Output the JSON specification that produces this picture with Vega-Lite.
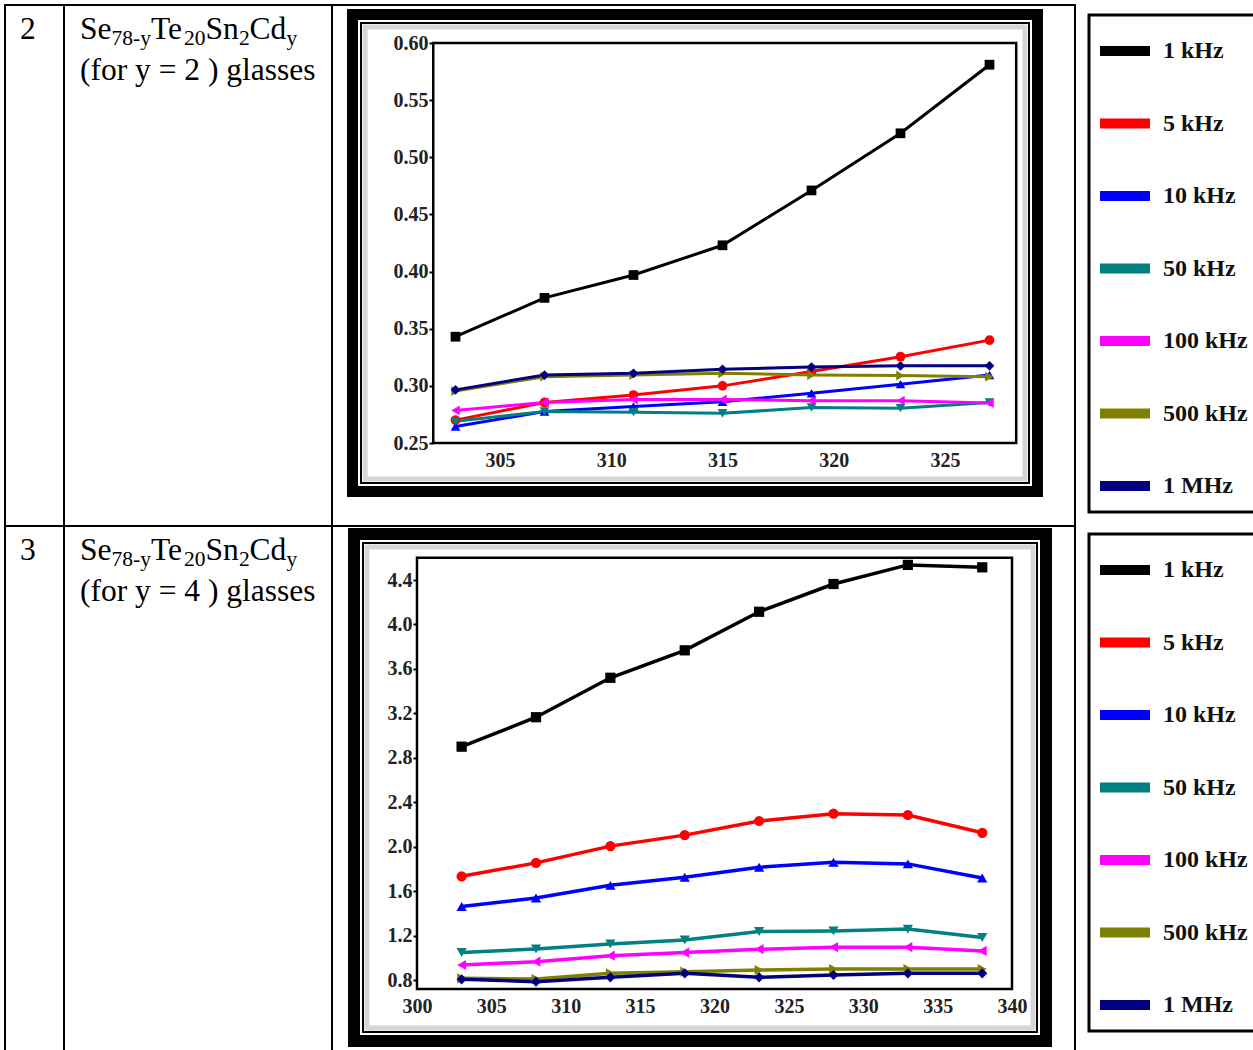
{
  "$schema": "https://vega.github.io/schema/vega-lite/v6.json",
  "background": "white",
  "padding": {"left": 4, "top": 4, "right": 0, "bottom": 0},
  "autosize": {"type": "pad"},
  "datasets": {
    "table": [
      {"no": "2", "s1": "Se", "s2": "78-y", "s3": "Te", "s4": "20", "s5": "Sn", "s6": "2", "s7": "Cd", "s8": "y", "line2": "(for y = 2 ) glasses"},
      {"no": "3", "s1": "Se", "s2": "78-y", "s3": "Te", "s4": "20", "s5": "Sn", "s6": "2", "s7": "Cd", "s8": "y", "line2": "(for y = 4 ) glasses"}
    ],
    "c1": [
      {"f": "1 kHz", "T": 303, "v": 0.343}, {"f": "1 kHz", "T": 307, "v": 0.377}, {"f": "1 kHz", "T": 311, "v": 0.397}, {"f": "1 kHz", "T": 315, "v": 0.423}, {"f": "1 kHz", "T": 319, "v": 0.471}, {"f": "1 kHz", "T": 323, "v": 0.521}, {"f": "1 kHz", "T": 327, "v": 0.581},
      {"f": "5 kHz", "T": 303, "v": 0.270}, {"f": "5 kHz", "T": 307, "v": 0.2855}, {"f": "5 kHz", "T": 311, "v": 0.292}, {"f": "5 kHz", "T": 315, "v": 0.300}, {"f": "5 kHz", "T": 319, "v": 0.3125}, {"f": "5 kHz", "T": 323, "v": 0.3255}, {"f": "5 kHz", "T": 327, "v": 0.340},
      {"f": "10 kHz", "T": 303, "v": 0.2645}, {"f": "10 kHz", "T": 307, "v": 0.2775}, {"f": "10 kHz", "T": 311, "v": 0.282}, {"f": "10 kHz", "T": 315, "v": 0.286}, {"f": "10 kHz", "T": 319, "v": 0.2935}, {"f": "10 kHz", "T": 323, "v": 0.3015}, {"f": "10 kHz", "T": 327, "v": 0.3095},
      {"f": "50 kHz", "T": 303, "v": 0.269}, {"f": "50 kHz", "T": 307, "v": 0.2775}, {"f": "50 kHz", "T": 311, "v": 0.277}, {"f": "50 kHz", "T": 315, "v": 0.276}, {"f": "50 kHz", "T": 319, "v": 0.281}, {"f": "50 kHz", "T": 323, "v": 0.2805}, {"f": "50 kHz", "T": 327, "v": 0.2855},
      {"f": "100 kHz", "T": 303, "v": 0.2785}, {"f": "100 kHz", "T": 307, "v": 0.2855}, {"f": "100 kHz", "T": 311, "v": 0.288}, {"f": "100 kHz", "T": 315, "v": 0.288}, {"f": "100 kHz", "T": 319, "v": 0.287}, {"f": "100 kHz", "T": 323, "v": 0.287}, {"f": "100 kHz", "T": 327, "v": 0.285},
      {"f": "500 kHz", "T": 303, "v": 0.2955}, {"f": "500 kHz", "T": 307, "v": 0.308}, {"f": "500 kHz", "T": 311, "v": 0.3095}, {"f": "500 kHz", "T": 315, "v": 0.311}, {"f": "500 kHz", "T": 319, "v": 0.3095}, {"f": "500 kHz", "T": 323, "v": 0.309}, {"f": "500 kHz", "T": 327, "v": 0.308},
      {"f": "1 MHz", "T": 303, "v": 0.2965}, {"f": "1 MHz", "T": 307, "v": 0.3095}, {"f": "1 MHz", "T": 311, "v": 0.311}, {"f": "1 MHz", "T": 315, "v": 0.3145}, {"f": "1 MHz", "T": 319, "v": 0.3165}, {"f": "1 MHz", "T": 323, "v": 0.3175}, {"f": "1 MHz", "T": 327, "v": 0.3175}
    ],
    "c2": [
      {"f": "1 kHz", "T": 303, "v": 2.90}, {"f": "1 kHz", "T": 308, "v": 3.165}, {"f": "1 kHz", "T": 313, "v": 3.52}, {"f": "1 kHz", "T": 318, "v": 3.767}, {"f": "1 kHz", "T": 323, "v": 4.114}, {"f": "1 kHz", "T": 328, "v": 4.364}, {"f": "1 kHz", "T": 333, "v": 4.536}, {"f": "1 kHz", "T": 338, "v": 4.514},
      {"f": "5 kHz", "T": 303, "v": 1.733}, {"f": "5 kHz", "T": 308, "v": 1.854}, {"f": "5 kHz", "T": 313, "v": 2.005}, {"f": "5 kHz", "T": 318, "v": 2.104}, {"f": "5 kHz", "T": 323, "v": 2.231}, {"f": "5 kHz", "T": 328, "v": 2.297}, {"f": "5 kHz", "T": 333, "v": 2.285}, {"f": "5 kHz", "T": 338, "v": 2.125},
      {"f": "10 kHz", "T": 303, "v": 1.462}, {"f": "10 kHz", "T": 308, "v": 1.538}, {"f": "10 kHz", "T": 313, "v": 1.652}, {"f": "10 kHz", "T": 318, "v": 1.725}, {"f": "10 kHz", "T": 323, "v": 1.815}, {"f": "10 kHz", "T": 328, "v": 1.860}, {"f": "10 kHz", "T": 333, "v": 1.845}, {"f": "10 kHz", "T": 338, "v": 1.718},
      {"f": "50 kHz", "T": 303, "v": 1.047}, {"f": "50 kHz", "T": 308, "v": 1.080}, {"f": "50 kHz", "T": 313, "v": 1.125}, {"f": "50 kHz", "T": 318, "v": 1.161}, {"f": "50 kHz", "T": 323, "v": 1.236}, {"f": "50 kHz", "T": 328, "v": 1.242}, {"f": "50 kHz", "T": 333, "v": 1.258}, {"f": "50 kHz", "T": 338, "v": 1.182},
      {"f": "100 kHz", "T": 303, "v": 0.935}, {"f": "100 kHz", "T": 308, "v": 0.965}, {"f": "100 kHz", "T": 313, "v": 1.019}, {"f": "100 kHz", "T": 318, "v": 1.047}, {"f": "100 kHz", "T": 323, "v": 1.077}, {"f": "100 kHz", "T": 328, "v": 1.095}, {"f": "100 kHz", "T": 333, "v": 1.095}, {"f": "100 kHz", "T": 338, "v": 1.062},
      {"f": "500 kHz", "T": 303, "v": 0.815}, {"f": "500 kHz", "T": 308, "v": 0.809}, {"f": "500 kHz", "T": 313, "v": 0.860}, {"f": "500 kHz", "T": 318, "v": 0.875}, {"f": "500 kHz", "T": 323, "v": 0.890}, {"f": "500 kHz", "T": 328, "v": 0.899}, {"f": "500 kHz", "T": 333, "v": 0.899}, {"f": "500 kHz", "T": 338, "v": 0.899},
      {"f": "1 MHz", "T": 303, "v": 0.806}, {"f": "1 MHz", "T": 308, "v": 0.785}, {"f": "1 MHz", "T": 313, "v": 0.824}, {"f": "1 MHz", "T": 318, "v": 0.860}, {"f": "1 MHz", "T": 323, "v": 0.824}, {"f": "1 MHz", "T": 328, "v": 0.845}, {"f": "1 MHz", "T": 333, "v": 0.860}, {"f": "1 MHz", "T": 338, "v": 0.860}
    ]
  },
  "columns": 4,
  "spacing": 0,
  "bounds": "flush",
  "resolve": {"scale": {"color": "independent"}, "legend": {"color": "independent"}},
  "concat": [
    {
      "width": 59, "height": 521,
      "data": {"name": "table"},
      "transform": [{"filter": "datum.no == '2'"}],
      "mark": {"type": "text", "align": "left", "baseline": "alphabetic", "fontSize": 31.5},
      "encoding": {"text": {"field": "no"}, "x": {"value": 15}, "y": {"value": 34}}
    },
    {
      "width": 268, "height": 521,
      "data": {"name": "table"},
      "transform": [{"filter": "datum.no == '2'"}],
      "layer": [
        {"mark": {"type": "text", "align": "left", "baseline": "alphabetic", "fontSize": 31.5}, "encoding": {"text": {"field": "s1"}, "x": {"value": 16}, "y": {"value": 34}}},
        {"mark": {"type": "text", "align": "left", "baseline": "alphabetic", "fontSize": 21.5}, "encoding": {"text": {"field": "s2"}, "x": {"value": 47.5}, "y": {"value": 40}}},
        {"mark": {"type": "text", "align": "left", "baseline": "alphabetic", "fontSize": 31.5}, "encoding": {"text": {"field": "s3"}, "x": {"value": 86.9}, "y": {"value": 34}}},
        {"mark": {"type": "text", "align": "left", "baseline": "alphabetic", "fontSize": 21.5}, "encoding": {"text": {"field": "s4"}, "x": {"value": 120.1}, "y": {"value": 40}}},
        {"mark": {"type": "text", "align": "left", "baseline": "alphabetic", "fontSize": 31.5}, "encoding": {"text": {"field": "s5"}, "x": {"value": 141.6}, "y": {"value": 34}}},
        {"mark": {"type": "text", "align": "left", "baseline": "alphabetic", "fontSize": 21.5}, "encoding": {"text": {"field": "s6"}, "x": {"value": 174.9}, "y": {"value": 40}}},
        {"mark": {"type": "text", "align": "left", "baseline": "alphabetic", "fontSize": 31.5}, "encoding": {"text": {"field": "s7"}, "x": {"value": 185.6}, "y": {"value": 34}}},
        {"mark": {"type": "text", "align": "left", "baseline": "alphabetic", "fontSize": 21.5}, "encoding": {"text": {"field": "s8"}, "x": {"value": 222.4}, "y": {"value": 40}}},
        {"mark": {"type": "text", "align": "left", "baseline": "alphabetic", "fontSize": 31.5}, "encoding": {"text": {"field": "line2"}, "x": {"value": 16}, "y": {"value": 75}}}
      ]
    },
    {
      "width": 743, "height": 521,
      "layer": [
        {"data": {"name": "c1"}, "mark": {"type": "line", "strokeWidth": 3},
         "encoding": {
           "x": {"field": "T", "type": "quantitative", "scale": {"domain": [297.449, 330.843], "nice": false, "zero": false},
                 "axis": {"title": null, "values": [305, 310, 315, 320, 325], "offset": -83, "ticks": false, "labelPadding": 7, "zindex": 1}},
           "y": {"field": "v", "type": "quantitative", "scale": {"domain": [0.17738, 0.63325], "nice": false, "zero": false},
                 "axis": {"title": null, "values": [0.25, 0.30, 0.35, 0.40, 0.45, 0.50, 0.55, 0.60], "format": ".2f", "offset": -101, "ticks": true, "tickSize": 4, "tickWidth": 2, "tickColor": "#000", "labelPadding": 1, "zindex": 1}},
           "color": {"field": "f", "type": "nominal",
                     "scale": {"domain": ["1 kHz", "5 kHz", "10 kHz", "50 kHz", "100 kHz", "500 kHz", "1 MHz"], "range": ["#000000", "#ff0000", "#0000ff", "#008080", "#ff00ff", "#808000", "#000080"]},
                     "legend": {"orient": "none", "legendX": 757, "legendY": 10, "title": "\u00a0", "titleOrient": "right", "titlePadding": 14, "titleFontSize": 10, "symbolType": "stroke", "symbolStrokeWidth": 10, "symbolSize": 2500, "labelFont": "Liberation Serif", "labelFontWeight": "bold", "labelFontSize": 24, "labelColor": "#111", "labelOffset": 8, "padding": 6, "rowPadding": 22.5, "strokeColor": "#000", "fillColor": "#ffffff", "labelLimit": 300}}
         }},
        {"data": {"name": "c1"}, "transform": [{"filter": "datum.f == '1 kHz'"}], "mark": {"type": "point", "shape": "square", "filled": true, "size": 95, "opacity": 1},
         "encoding": {"x": {"field": "T", "type": "quantitative"}, "y": {"field": "v", "type": "quantitative"}, "color": {"field": "f", "type": "nominal", "legend": null}}},
        {"data": {"name": "c1"}, "transform": [{"filter": "datum.f == '5 kHz'"}], "mark": {"type": "point", "shape": "circle", "filled": true, "size": 95, "opacity": 1},
         "encoding": {"x": {"field": "T", "type": "quantitative"}, "y": {"field": "v", "type": "quantitative"}, "color": {"field": "f", "type": "nominal", "legend": null}}},
        {"data": {"name": "c1"}, "transform": [{"filter": "datum.f == '10 kHz'"}], "mark": {"type": "point", "shape": "triangle-up", "filled": true, "size": 95, "opacity": 1},
         "encoding": {"x": {"field": "T", "type": "quantitative"}, "y": {"field": "v", "type": "quantitative"}, "color": {"field": "f", "type": "nominal", "legend": null}}},
        {"data": {"name": "c1"}, "transform": [{"filter": "datum.f == '50 kHz'"}], "mark": {"type": "point", "shape": "triangle-down", "filled": true, "size": 95, "opacity": 1},
         "encoding": {"x": {"field": "T", "type": "quantitative"}, "y": {"field": "v", "type": "quantitative"}, "color": {"field": "f", "type": "nominal", "legend": null}}},
        {"data": {"name": "c1"}, "transform": [{"filter": "datum.f == '100 kHz'"}], "mark": {"type": "point", "shape": "triangle-left", "filled": true, "size": 95, "opacity": 1},
         "encoding": {"x": {"field": "T", "type": "quantitative"}, "y": {"field": "v", "type": "quantitative"}, "color": {"field": "f", "type": "nominal", "legend": null}}},
        {"data": {"name": "c1"}, "transform": [{"filter": "datum.f == '500 kHz'"}], "mark": {"type": "point", "shape": "triangle-right", "filled": true, "size": 95, "opacity": 1},
         "encoding": {"x": {"field": "T", "type": "quantitative"}, "y": {"field": "v", "type": "quantitative"}, "color": {"field": "f", "type": "nominal", "legend": null}}},
        {"data": {"name": "c1"}, "transform": [{"filter": "datum.f == '1 MHz'"}], "mark": {"type": "point", "shape": "diamond", "filled": true, "size": 95, "opacity": 1},
         "encoding": {"x": {"field": "T", "type": "quantitative"}, "y": {"field": "v", "type": "quantitative"}, "color": {"field": "f", "type": "nominal", "legend": null}}},
        {"data": {"values": [{"k": 1}]}, "mark": {"type": "rect", "fill": null, "stroke": "#000", "strokeWidth": 11},
         "encoding": {"x": {"datum": 298.371, "type": "quantitative"}, "x2": {"datum": 329.157}, "y": {"datum": 0.62494, "type": "quantitative"}, "y2": {"datum": 0.20756}}},
        {"data": {"values": [{"k": 1}]}, "mark": {"type": "rect", "fill": null, "stroke": "#000", "strokeWidth": 2},
         "encoding": {"x": {"datum": 298.753, "type": "quantitative"}, "x2": {"datum": 328.775}, "y": {"datum": 0.6175, "type": "quantitative"}, "y2": {"datum": 0.215}}},
        {"data": {"values": [{"k": 1}]}, "mark": {"type": "rect", "fill": null, "stroke": "#d6d6d6", "strokeWidth": 5},
         "encoding": {"x": {"datum": 298.94, "type": "quantitative"}, "x2": {"datum": 328.59}, "y": {"datum": 0.6139, "type": "quantitative"}, "y2": {"datum": 0.2186}}},
        {"data": {"values": [{"k": 1}]}, "mark": {"type": "rect", "fill": null, "stroke": "#000", "strokeWidth": 2.5},
         "encoding": {"x": {"datum": 302.0, "type": "quantitative"}, "x2": {"datum": 328.2}, "y": {"datum": 0.60, "type": "quantitative"}, "y2": {"datum": 0.25}}}
      ]
    },
    {
      "width": 180, "height": 521,
      "data": {"values": [{"k": ""}]},
      "mark": {"type": "text"},
      "encoding": {"text": {"field": "k"}}
    },
    {
      "width": 59, "height": 526,
      "data": {"name": "table"},
      "transform": [{"filter": "datum.no == '3'"}],
      "mark": {"type": "text", "align": "left", "baseline": "alphabetic", "fontSize": 31.5},
      "encoding": {"text": {"field": "no"}, "x": {"value": 15}, "y": {"value": 34}}
    },
    {
      "width": 268, "height": 526,
      "data": {"name": "table"},
      "transform": [{"filter": "datum.no == '3'"}],
      "layer": [
        {"mark": {"type": "text", "align": "left", "baseline": "alphabetic", "fontSize": 31.5}, "encoding": {"text": {"field": "s1"}, "x": {"value": 16}, "y": {"value": 34}}},
        {"mark": {"type": "text", "align": "left", "baseline": "alphabetic", "fontSize": 21.5}, "encoding": {"text": {"field": "s2"}, "x": {"value": 47.5}, "y": {"value": 40}}},
        {"mark": {"type": "text", "align": "left", "baseline": "alphabetic", "fontSize": 31.5}, "encoding": {"text": {"field": "s3"}, "x": {"value": 86.9}, "y": {"value": 34}}},
        {"mark": {"type": "text", "align": "left", "baseline": "alphabetic", "fontSize": 21.5}, "encoding": {"text": {"field": "s4"}, "x": {"value": 120.1}, "y": {"value": 40}}},
        {"mark": {"type": "text", "align": "left", "baseline": "alphabetic", "fontSize": 31.5}, "encoding": {"text": {"field": "s5"}, "x": {"value": 141.6}, "y": {"value": 34}}},
        {"mark": {"type": "text", "align": "left", "baseline": "alphabetic", "fontSize": 21.5}, "encoding": {"text": {"field": "s6"}, "x": {"value": 174.9}, "y": {"value": 40}}},
        {"mark": {"type": "text", "align": "left", "baseline": "alphabetic", "fontSize": 31.5}, "encoding": {"text": {"field": "s7"}, "x": {"value": 185.6}, "y": {"value": 34}}},
        {"mark": {"type": "text", "align": "left", "baseline": "alphabetic", "fontSize": 21.5}, "encoding": {"text": {"field": "s8"}, "x": {"value": 222.4}, "y": {"value": 40}}},
        {"mark": {"type": "text", "align": "left", "baseline": "alphabetic", "fontSize": 31.5}, "encoding": {"text": {"field": "line2"}, "x": {"value": 16}, "y": {"value": 75}}}
      ]
    },
    {
      "width": 743, "height": 526,
      "layer": [
        {"data": {"name": "c2"}, "mark": {"type": "line", "strokeWidth": 3.5},
         "encoding": {
           "x": {"field": "T", "type": "quantitative", "scale": {"domain": [294.286, 344.235], "nice": false, "zero": false},
                 "axis": {"title": null, "values": [300, 305, 310, 315, 320, 325, 330, 335, 340], "offset": -63, "ticks": false, "labelPadding": 7, "zindex": 1}},
           "y": {"field": "v", "type": "quantitative", "scale": {"domain": [0.152, 4.886], "nice": false, "zero": false},
                 "axis": {"title": null, "values": [0.8, 1.2, 1.6, 2.0, 2.4, 2.8, 3.2, 3.6, 4.0, 4.4], "format": ".1f", "offset": -85, "ticks": true, "tickSize": 4, "tickWidth": 2, "tickColor": "#000", "labelPadding": 1, "zindex": 1}},
           "color": {"field": "f", "type": "nominal",
                     "scale": {"domain": ["1 kHz", "5 kHz", "10 kHz", "50 kHz", "100 kHz", "500 kHz", "1 MHz"], "range": ["#000000", "#ff0000", "#0000ff", "#008080", "#ff00ff", "#808000", "#000080"]},
                     "legend": {"orient": "none", "legendX": 757, "legendY": 8, "title": "\u00a0", "titleOrient": "right", "titlePadding": 14, "titleFontSize": 10, "symbolType": "stroke", "symbolStrokeWidth": 10, "symbolSize": 2500, "labelFont": "Liberation Serif", "labelFontWeight": "bold", "labelFontSize": 24, "labelColor": "#111", "labelOffset": 8, "padding": 6, "rowPadding": 22.5, "strokeColor": "#000", "fillColor": "#ffffff", "labelLimit": 300}}
         }},
        {"data": {"name": "c2"}, "transform": [{"filter": "datum.f == '1 kHz'"}], "mark": {"type": "point", "shape": "square", "filled": true, "size": 105, "opacity": 1},
         "encoding": {"x": {"field": "T", "type": "quantitative"}, "y": {"field": "v", "type": "quantitative"}, "color": {"field": "f", "type": "nominal", "legend": null}}},
        {"data": {"name": "c2"}, "transform": [{"filter": "datum.f == '5 kHz'"}], "mark": {"type": "point", "shape": "circle", "filled": true, "size": 105, "opacity": 1},
         "encoding": {"x": {"field": "T", "type": "quantitative"}, "y": {"field": "v", "type": "quantitative"}, "color": {"field": "f", "type": "nominal", "legend": null}}},
        {"data": {"name": "c2"}, "transform": [{"filter": "datum.f == '10 kHz'"}], "mark": {"type": "point", "shape": "triangle-up", "filled": true, "size": 105, "opacity": 1},
         "encoding": {"x": {"field": "T", "type": "quantitative"}, "y": {"field": "v", "type": "quantitative"}, "color": {"field": "f", "type": "nominal", "legend": null}}},
        {"data": {"name": "c2"}, "transform": [{"filter": "datum.f == '50 kHz'"}], "mark": {"type": "point", "shape": "triangle-down", "filled": true, "size": 105, "opacity": 1},
         "encoding": {"x": {"field": "T", "type": "quantitative"}, "y": {"field": "v", "type": "quantitative"}, "color": {"field": "f", "type": "nominal", "legend": null}}},
        {"data": {"name": "c2"}, "transform": [{"filter": "datum.f == '100 kHz'"}], "mark": {"type": "point", "shape": "triangle-left", "filled": true, "size": 105, "opacity": 1},
         "encoding": {"x": {"field": "T", "type": "quantitative"}, "y": {"field": "v", "type": "quantitative"}, "color": {"field": "f", "type": "nominal", "legend": null}}},
        {"data": {"name": "c2"}, "transform": [{"filter": "datum.f == '500 kHz'"}], "mark": {"type": "point", "shape": "triangle-right", "filled": true, "size": 105, "opacity": 1},
         "encoding": {"x": {"field": "T", "type": "quantitative"}, "y": {"field": "v", "type": "quantitative"}, "color": {"field": "f", "type": "nominal", "legend": null}}},
        {"data": {"name": "c2"}, "transform": [{"filter": "datum.f == '1 MHz'"}], "mark": {"type": "point", "shape": "diamond", "filled": true, "size": 105, "opacity": 1},
         "encoding": {"x": {"field": "T", "type": "quantitative"}, "y": {"field": "v", "type": "quantitative"}, "color": {"field": "f", "type": "nominal", "legend": null}}},
        {"data": {"values": [{"k": 1}]}, "mark": {"type": "rect", "fill": null, "stroke": "#000", "strokeWidth": 12},
         "encoding": {"x": {"datum": 295.765, "type": "quantitative"}, "x2": {"datum": 342.286}, "y": {"datum": 4.814, "type": "quantitative"}, "y2": {"datum": 0.251}}},
        {"data": {"values": [{"k": 1}]}, "mark": {"type": "rect", "fill": null, "stroke": "#000", "strokeWidth": 2},
         "encoding": {"x": {"datum": 296.37, "type": "quantitative"}, "x2": {"datum": 341.681}, "y": {"datum": 4.733, "type": "quantitative"}, "y2": {"datum": 0.332}}},
        {"data": {"values": [{"k": 1}]}, "mark": {"type": "rect", "fill": null, "stroke": "#d6d6d6", "strokeWidth": 5},
         "encoding": {"x": {"datum": 296.64, "type": "quantitative"}, "x2": {"datum": 341.41}, "y": {"datum": 4.697, "type": "quantitative"}, "y2": {"datum": 0.368}}},
        {"data": {"values": [{"k": 1}]}, "mark": {"type": "rect", "fill": null, "stroke": "#000", "strokeWidth": 2.5},
         "encoding": {"x": {"datum": 300, "type": "quantitative"}, "x2": {"datum": 340}, "y": {"datum": 4.6, "type": "quantitative"}, "y2": {"datum": 0.72}}}
      ]
    },
    {
      "width": 180, "height": 526,
      "data": {"values": [{"k": ""}]},
      "mark": {"type": "text"},
      "encoding": {"text": {"field": "k"}}
    }
  ],
  "config": {
    "view": {"stroke": "#000", "strokeWidth": 2},
    "text": {"font": "Liberation Serif", "color": "#000"},
    "legend": {"strokeWidth": 3},
    "axis": {"labelFont": "Liberation Serif", "labelFontWeight": "bold", "labelFontSize": 20, "labelColor": "#222", "grid": false, "domain": false, "labelFlush": false, "labelOverlap": false}
  }
}
